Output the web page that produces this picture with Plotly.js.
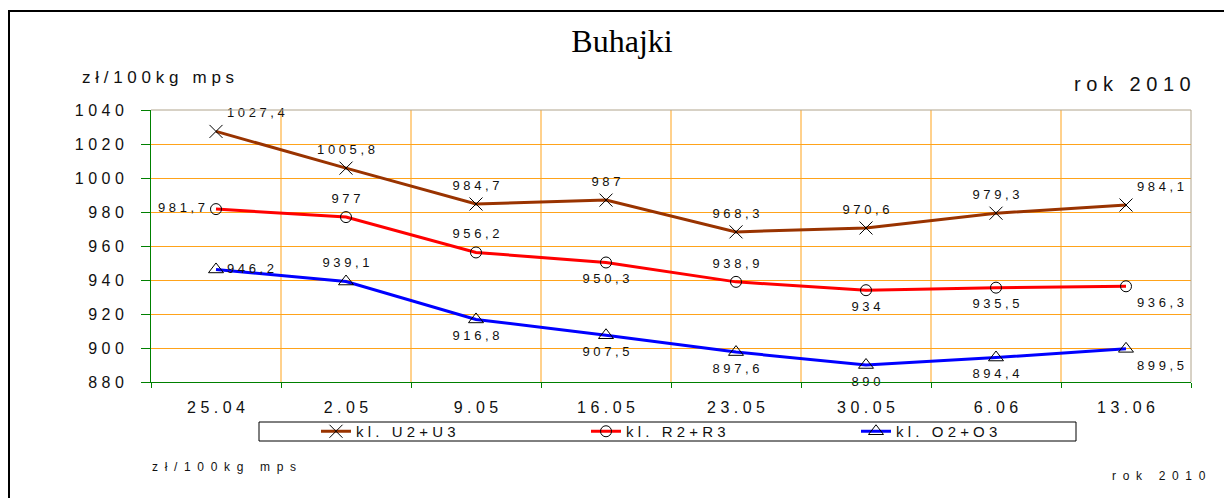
<!DOCTYPE html>
<html>
<head>
<meta charset="utf-8">
<script src="https://cdn.plot.ly/plotly-3.0.1.min.js"></script>
<style>
  body { margin: 0; background: #fff; }
  #chart1 { width: 1224px; height: 498px; }
</style>
</head>
<body>
<div id="chart1"></div>
<script>
const weeks = ['25.04', '2.05', '9.05', '16.05', '23.05', '30.05', '6.06', '13.06'];
const priceU = [1027.4, 1005.8, 984.7, 987, 968.3, 970.6, 979.3, 984.1];
const priceR = [981.7, 977, 956.2, 950.3, 938.9, 934, 935.5, 936.3];
const priceO = [946.2, 939.1, 916.8, 907.5, 897.6, 890, 894.4, 899.5];
const yTicks = [880, 900, 920, 940, 960, 980, 1000, 1020, 1040];

// where each value label sits next to its point
const posU = ['top right', 'top center', 'top center', 'top center', 'top center', 'top center', 'top center', 'top right'];
const posR = ['middle left', 'top center', 'top center', 'bottom center', 'top center', 'bottom center', 'bottom center', 'bottom right'];
const posO = ['middle right', 'top center', 'bottom center', 'bottom center', 'bottom center', 'bottom center', 'bottom center', 'bottom right'];

// the original uses wide letter spacing everywhere
const spaced = (s, sep) => String(s).split('').join(sep || ' ');
const valueLabel = v => spaced(String(v).replace('.', ','));

const SANS = 'Liberation Sans, Arial, sans-serif';
const GRID = '#ffa31a';

// plot area: x 151..1191, y 110..382
const L = 151, T = 110, PW = 1040, PH = 272;
const px = x => (x - L) / PW;
const py = y => (T + PH - y) / PH;

function lineTrace(name, y, color, symbol, size) {
  return {
    type: 'scatter',
    mode: 'lines+markers',
    name: spaced(name),
    x: weeks,
    y: y,
    line: {color: color, width: 3},
    marker: {symbol: symbol, size: size, color: '#000', line: {color: '#000', width: 1}},
    cliponaxis: false,
    hoverinfo: 'skip'
  };
}

// labels as a separate trace; the invisible markers push the text off the point
function labelTrace(y, pos) {
  return {
    type: 'scatter',
    mode: 'markers+text',
    x: weeks,
    y: y,
    text: y.map(valueLabel),
    textposition: pos,
    textfont: {family: SANS, size: 13, color: '#111'},
    marker: {size: 16, opacity: 0},
    showlegend: false,
    cliponaxis: false,
    hoverinfo: 'skip'
  };
}

let plotData = [
  lineTrace('kl. U2+U3', priceU, '#993300', 'x-thin-open', 13),
  lineTrace('kl. R2+R3', priceR, '#ff0000', 'circle-open', 11),
  lineTrace('kl. O2+O3', priceO, '#0000ff', 'triangle-up-open', 13),
  labelTrace(priceU, posU),
  labelTrace(priceR, posR),
  labelTrace(priceO, posO)
];

// vertical grid between the weeks
const catLines = weeks.slice(1).map((w, i) => ({
  type: 'line', xref: 'x', yref: 'paper', x0: i + 0.5, x1: i + 0.5, y0: 0, y1: 1,
  line: {color: GRID, width: 1}, layer: 'below'
}));

let layout = {
  width: 1224,
  height: 498,
  margin: {l: L, r: 1224 - L - PW, t: T, b: 498 - T - PH},
  paper_bgcolor: '#fff',
  plot_bgcolor: '#fff',
  font: {family: SANS, color: '#111'},
  title: {
    text: 'Buhajki',
    font: {family: 'Liberation Serif, Times New Roman, serif', size: 32, color: '#000'},
    xref: 'container', yref: 'container',
    x: 622 / 1224, xanchor: 'center',
    y: 1 - 41 / 498, yanchor: 'middle'
  },
  xaxis: {
    type: 'category',
    tickvals: weeks,
    ticktext: weeks.map(w => spaced(w)),
    tickson: 'boundaries',
    ticks: 'outside',
    ticklen: 5,
    tickcolor: '#008000',
    tickfont: {size: 16, color: '#111'},
    ticklabelstandoff: 11,
    showgrid: false,
    showline: true,
    linecolor: '#008000',
    linewidth: 1,
    range: [-0.5, weeks.length - 0.5],
    fixedrange: true
  },
  yaxis: {
    range: [880, 1040],
    tickvals: yTicks,
    ticktext: yTicks.map(t => spaced(t)),
    ticks: 'outside',
    ticklen: 9,
    tickcolor: '#008000',
    tickfont: {size: 16, color: '#111'},
    ticklabelstandoff: 14,
    showgrid: true,
    gridcolor: GRID,
    gridwidth: 1,
    showline: true,
    linecolor: '#008000',
    linewidth: 1,
    zeroline: false,
    fixedrange: true
  },
  showlegend: true,
  legend: {
    orientation: 'h',
    x: px(316), xanchor: 'left',
    y: py(431.5), yanchor: 'middle',
    font: {family: SANS, size: 15, color: '#111'},
    entrywidth: 225,
    bgcolor: 'rgba(0,0,0,0)',
    borderwidth: 0
  },
  shapes: catLines.concat([
    // outer frame of the picture
    {type: 'rect', xref: 'paper', yref: 'paper', x0: px(9), x1: px(1250), y0: py(530), y1: py(11),
      line: {color: '#000', width: 2}},
    // top and right edges of the plot area
    {type: 'line', xref: 'paper', yref: 'paper', x0: 0, x1: 1, y0: 1, y1: 1, line: {color: '#b0a48c', width: 1}, layer: 'above'},
    {type: 'line', xref: 'paper', yref: 'paper', x0: 1, x1: 1, y0: 0, y1: 1, line: {color: '#b0a48c', width: 1}, layer: 'above'},
    // legend box
    {type: 'rect', xref: 'paper', yref: 'paper', x0: px(259), x1: px(1076), y0: py(441), y1: py(422),
      line: {color: '#000', width: 1}}
  ]),
  annotations: [
    {text: spaced('zł/100kg mps'), xref: 'paper', yref: 'paper', x: px(80), xanchor: 'left',
      y: py(77), yanchor: 'middle', showarrow: false, font: {size: 17, color: '#111'}},
    {text: spaced('rok 2010'), xref: 'paper', yref: 'paper', x: px(1193), xanchor: 'right',
      y: py(84), yanchor: 'middle', showarrow: false, font: {size: 20, color: '#111'}},
    {text: spaced('zł/100kg mps', '  '), xref: 'paper', yref: 'paper', x: px(150), xanchor: 'left',
      y: py(467), yanchor: 'middle', showarrow: false, font: {size: 12, color: '#111'}},
    {text: spaced('rok 2010', '  '), xref: 'paper', yref: 'paper', x: px(1110), xanchor: 'left',
      y: py(476), yanchor: 'middle', showarrow: false, font: {size: 12, color: '#111'}}
  ]
};

Plotly.newPlot('chart1', plotData, layout, {displayModeBar: false, staticPlot: true});
</script>
</body>
</html>
